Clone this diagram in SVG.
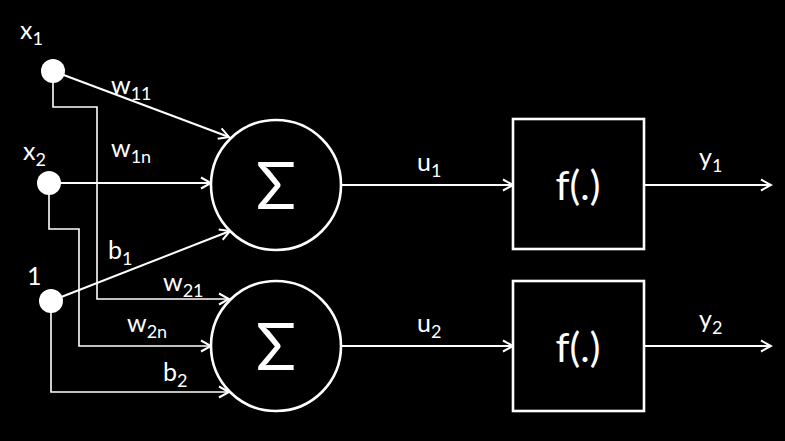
<svg xmlns="http://www.w3.org/2000/svg" width="785" height="441" viewBox="0 0 785 441">
<style>
.bg{fill:#000}
.ln{stroke:#fff;stroke-width:2;fill:none}
.thin{stroke:#fff;stroke-width:1.6;fill:none}
.sh{stroke:#fff;stroke-width:2.6;fill:#000}
.dot{fill:#fff}
text{fill:#fff;font-family:Lato,"Open Sans","DejaVu Sans",sans-serif}
.lb{font-size:25px}
.sb{font-size:18px}
</style>
<defs>
<marker id="ah" markerUnits="userSpaceOnUse" markerWidth="14" markerHeight="14" viewBox="0 0 14 14" refX="12" refY="7" orient="auto">
<path d="M2,1.5 L12,7 L2,12.5" fill="none" stroke="#fff" stroke-width="2"/>
</marker>
</defs>
<rect class="bg" x="0" y="0" width="785" height="441"/>
<g id="connectors">
<line class="ln" x1="53" y1="71" x2="229" y2="137" marker-end="url(#ah)"/>
<polyline class="thin" points="53,71 53,107 97,107 97,299 229,299" marker-end="url(#ah)"/>
<line class="ln" x1="49" y1="183" x2="211" y2="183" marker-end="url(#ah)"/>
<polyline class="thin" points="49,183 49,229 79,229 79,346 211,346" marker-end="url(#ah)"/>
<line class="ln" x1="51" y1="301" x2="230" y2="231" marker-end="url(#ah)"/>
<polyline class="thin" points="51,301 51,392 229,392" marker-end="url(#ah)"/>
<line class="ln" x1="342" y1="185" x2="513" y2="185" marker-end="url(#ah)"/>
<line class="ln" x1="342" y1="346" x2="513" y2="346" marker-end="url(#ah)"/>
<line class="ln" x1="644" y1="185" x2="771" y2="185" marker-end="url(#ah)"/>
<line class="ln" x1="644" y1="346" x2="771" y2="346" marker-end="url(#ah)"/>
<text class="lb" x="111" y="94">w<tspan class="sb" dy="6">11</tspan></text>
<text class="lb" x="111" y="157">w<tspan class="sb" dy="6">1n</tspan></text>
<text class="lb" x="108" y="259">b<tspan class="sb" dy="6">1</tspan></text>
<text class="lb" x="163" y="291">w<tspan class="sb" dy="6">21</tspan></text>
<text class="lb" x="127" y="332">w<tspan class="sb" dy="6">2n</tspan></text>
<text class="lb" x="163" y="381">b<tspan class="sb" dy="6">2</tspan></text>
<text class="lb" x="417" y="171">u<tspan class="sb" dy="6">1</tspan></text>
<text class="lb" x="417" y="332">u<tspan class="sb" dy="6">2</tspan></text>
<text class="lb" x="699" y="166">y<tspan class="sb" dy="6">1</tspan></text>
<text class="lb" x="699" y="328">y<tspan class="sb" dy="6">2</tspan></text>
</g>
<g id="x1">
<circle class="dot" cx="53" cy="71" r="12"/>
<text class="lb" x="20" y="39">x<tspan class="sb" dy="6">1</tspan></text>
</g>
<g id="x2">
<circle class="dot" cx="49" cy="183" r="12"/>
<text class="lb" x="23" y="160">x<tspan class="sb" dy="6">2</tspan></text>
</g>
<g id="bias">
<circle class="dot" cx="51" cy="301" r="12"/>
<text class="lb" x="27" y="285" font-size="27">1</text>
</g>
<g id="sum1">
<circle class="sh" cx="276" cy="185" r="65"/>
<text x="276" y="209" text-anchor="middle" font-size="66">Σ</text>
</g>
<g id="sum2">
<circle class="sh" cx="276" cy="346" r="65"/>
<text x="276" y="370" text-anchor="middle" font-size="66">Σ</text>
</g>
<g id="f1">
<rect class="sh" x="513" y="119" width="131" height="130"/>
<text x="578" y="200" text-anchor="middle" font-size="40">f(.)</text>
</g>
<g id="f2">
<rect class="sh" x="513" y="281" width="131" height="130"/>
<text x="578" y="362" text-anchor="middle" font-size="40">f(.)</text>
</g>
</svg>
